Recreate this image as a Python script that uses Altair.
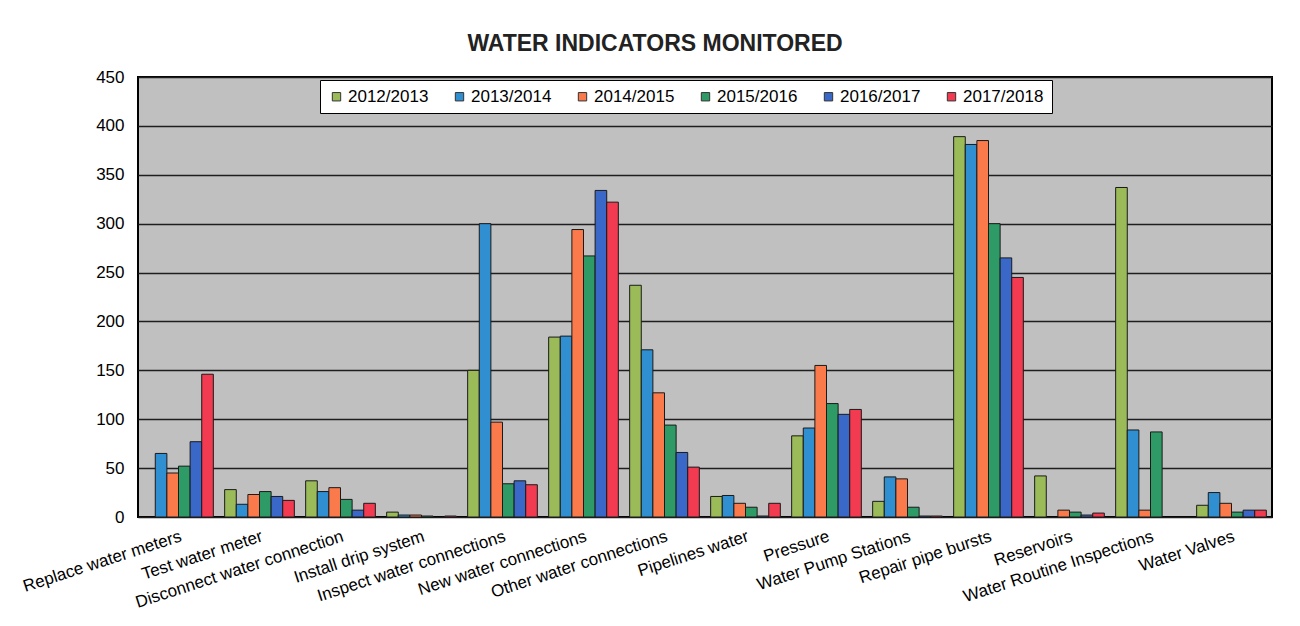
import altair as alt
import pandas as pd

categories = [
    "Replace water meters", "Test water meter", "Disconnect water connection",
    "Install drip system", "Inspect water connections", "New water connections",
    "Other water connections", "Pipelines water", "Pressure", "Water Pump Stations",
    "Repair pipe bursts", "Reservoirs", "Water Routine Inspections", "Water Valves",
]
series = ["2012/2013", "2013/2014", "2014/2015", "2015/2016", "2016/2017", "2017/2018"]

v2012_2013 = [None, 28, 37, 5, 150, 184, 237, 21, 83, 16, 389, 42, 337, 12]
v2013_2014 = [65, 13, 26, 2, 300, 185, 171, 22, 91, 41, 381, None, 89, 25]
v2014_2015 = [45, 23, 30, 2, 97, 294, 127, 14, 155, 39, 385, 7, 7, 14]
v2015_2016 = [52, 26, 18, 1, 34, 267, 94, 10, 116, 10, 300, 5, 87, 5]
v2016_2017 = [77, 21, 7, None, 37, 334, 66, 1, 105, 1, 265, 2, None, 7]
v2017_2018 = [146, 17, 14, 1, 33, 322, 51, 14, 110, 1, 245, 4, None, 7]

colors = ["#9BBB59", "#2F8FD0", "#FA7A4C", "#2E9B66", "#3A68C8", "#F23A50"]

rows = []
for s, vals in zip(series, [v2012_2013, v2013_2014, v2014_2015, v2015_2016, v2016_2017, v2017_2018]):
    for c, v in zip(categories, vals):
        if v is not None:
            rows.append({"Indicator": c, "Year": s, "Value": v})
df = pd.DataFrame(rows)

FONT = "Liberation Sans"

chart = alt.Chart(df).mark_bar(stroke="#1a1a1a", strokeWidth=1).encode(
    x=alt.X(
        "Indicator:N", sort=categories,
        scale=alt.Scale(domain=categories, paddingInner=0.14, paddingOuter=0.07),
        axis=alt.Axis(title=None, labelAngle=342, labelAlign="right", labelBaseline="top",
                      labelFontSize=17, ticks=False, domain=False, labelPadding=11,
                      labelColor="black", labelFont=FONT, grid=False, labelLimit=0),
    ),
    xOffset=alt.XOffset("Year:N", sort=series, scale=alt.Scale(domain=series)),
    y=alt.Y(
        "Value:Q", scale=alt.Scale(domain=[0, 450], nice=False),
        axis=alt.Axis(title=None, values=list(range(0, 451, 50)), labelFontSize=17,
                      labelFont=FONT, labelColor="black", ticks=False, domain=False,
                      labelPadding=14, gridColor="#1e1e1e", gridWidth=1.5, gridOpacity=1),
    ),
    color=alt.Color(
        "Year:N", sort=series, scale=alt.Scale(domain=series, range=colors),
        legend=alt.Legend(
            title=None, orient="none", legendX=182, legendY=3, direction="horizontal",
            fillColor="white", strokeColor="black", padding=8, symbolType="square",
            symbolSize=70, symbolStrokeColor="#333", symbolStrokeWidth=1, symbolOpacity=1,
            labelFontSize=17, labelFont=FONT, labelColor="black", columnPadding=22,
            labelOffset=3,
        ),
    ),
).properties(
    width=1134, height=440,
    padding={"left": 130, "top": 69, "right": 20, "bottom": 100},
    autosize=alt.AutoSizeParams(type="none"),
    background="white",
    title=alt.TitleParams("WATER INDICATORS MONITORED", fontSize=23, fontWeight="bold",
                          font=FONT, anchor="middle", offset=27, dx=-50, dy=38,
                          baseline="bottom", color="#222222"),
).configure_view(
    fill="#C0C0C0", stroke="black", strokeWidth=2,
)

chart.save("out.html", embed_options={"renderer": "svg", "actions": False})
